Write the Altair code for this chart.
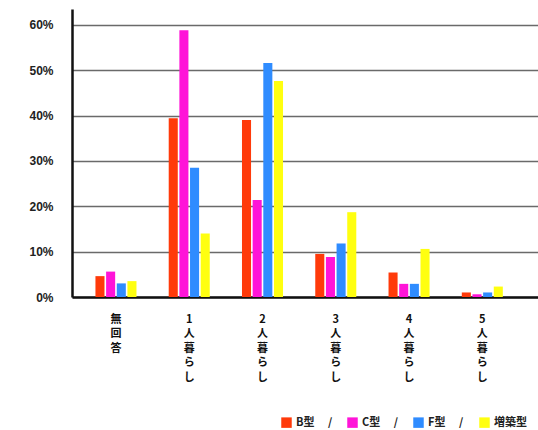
import altair as alt
import pandas as pd

categories = ["無回答", "1人暮らし", "2人暮らし", "3人暮らし", "4人暮らし", "5人暮らし"]
series = ["B型", "C型", "F型", "増築型"]
colors = ["#ff3a0a", "#ff14d8", "#2f8cff", "#ffff10"]
values_B = [4.6, 39.4, 39.0, 9.5, 5.4, 1.0]
values_C = [5.6, 58.8, 21.4, 8.8, 2.9, 0.6]
values_F = [3.0, 28.5, 51.6, 11.8, 2.9, 1.0]
values_Z = [3.5, 14.0, 47.6, 18.7, 10.6, 2.3]
y_ticks = [0, 10, 20, 30, 40, 50, 60]

rows = []
for s, vals in zip(series, [values_B, values_C, values_F, values_Z]):
    for c, v in zip(categories, vals):
        rows.append({"cat": c, "series": s, "value": v})
df = pd.DataFrame(rows)

FONT = "Noto Sans CJK JP"

chart = alt.Chart(df).mark_bar().encode(
    x=alt.X("cat:N", sort=categories,
            scale=alt.Scale(paddingInner=0.44, paddingOuter=0.4, align=0.4),
            axis=alt.Axis(title=None, labelAngle=0, ticks=False,
                          labelExpr="split(datum.label, '')",
                          labelBaseline="top", labelFont=FONT, labelFontWeight="bold",
                          labelFontSize=11, labelLineHeight=14.5, labelPadding=16,
                          labelColor="#111", domainColor="#111", domainWidth=2.5)),
    xOffset=alt.XOffset("series:N", sort=series,
                        scale=alt.Scale(paddingInner=0.15, paddingOuter=0)),
    y=alt.Y("value:Q", scale=alt.Scale(domain=[0, 63.5], nice=False),
            axis=alt.Axis(title=None, values=y_ticks, ticks=False,
                          labelExpr="datum.value + '%'",
                          labelFont="Liberation Sans", labelFontWeight="bold",
                          labelFontSize=12, labelPadding=19, labelColor="#222",
                          domainColor="#111", domainWidth=2.5,
                          grid=True, gridColor="#6a6a6a", gridWidth=1.6)),
    color=alt.Color("series:N", sort=series,
                    scale=alt.Scale(domain=series, range=colors),
                    legend=alt.Legend(title=None, orient="none", direction="horizontal",
                                      legendX=209, legendY=408,
                                      symbolType="square", symbolSize=110,
                                      symbolStrokeWidth=0, symbolOpacity=1,
                                      labelFont=FONT, labelFontWeight="bold",
                                      labelFontSize=11, labelColor="#222",
                                      labelOffset=4, columnPadding=14, gridAlign="all",
                                      labelExpr="datum.label == '増築型' ? datum.label : datum.label + '\u3000 /'")),
).properties(
    width=466, height=288,
    autosize=alt.AutoSizeParams(type="none"),
    padding={"left": 72, "top": 9, "right": 0, "bottom": 133},
    background="white",
).configure_view(stroke=None)

chart.save("out.html", embed_options={"renderer": "svg", "actions": False})
